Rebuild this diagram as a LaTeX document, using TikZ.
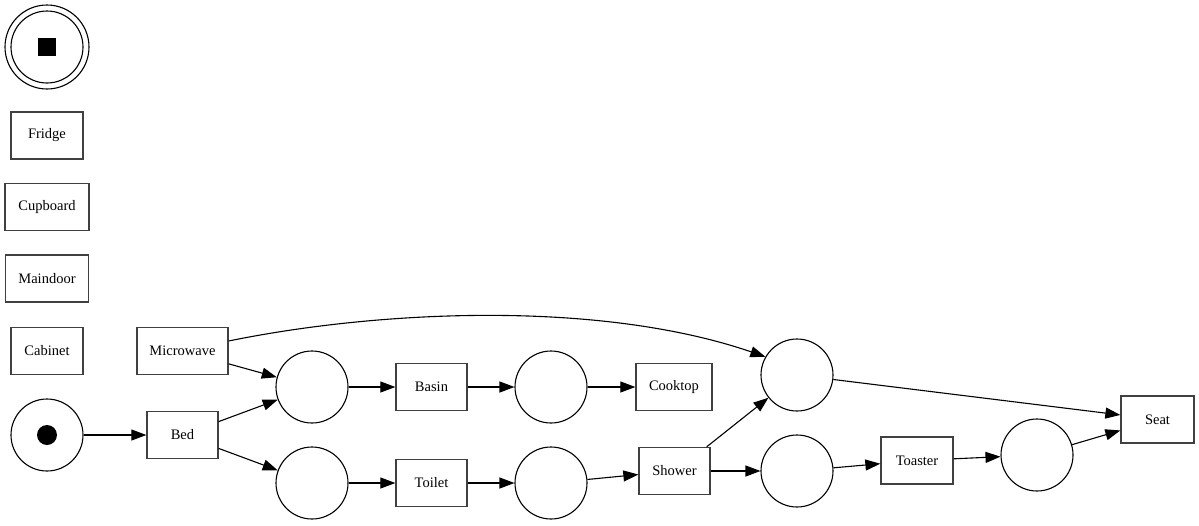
\documentclass[tikz,border=0pt]{standalone}
\usepackage{fontspec}
\setmainfont{Liberation Serif}
\usetikzlibrary{arrows.meta}
\definecolor{boxline}{HTML}{404040}
\begin{document}
\begin{tikzpicture}[x=1pt,y=-1pt,
  place/.style={draw,circle,minimum size=72pt,inner sep=0pt,line width=1.1pt},
  trans/.style={draw=boxline,rectangle,minimum height=47pt,inner sep=0pt,line width=1.3pt,font=\fontsize{14.5}{16}\selectfont},
  arc/.style={-{Triangle[length=15pt,width=11pt]},line width=1.1pt}]
\useasboundingbox (0,0) rectangle (1199,525);
% final place
\node[place,minimum size=84pt] (end) at (47,47) {};
\node[draw,circle,minimum size=72pt,inner sep=0pt,line width=1.1pt] (endin) at (47,47) {};
\node[fill=black,minimum size=18pt,inner sep=0pt] (endsq) at (47,47) {};
% isolated transitions
\node[trans,minimum width=72pt] (fridge) at (47,135.5) {Fridge};
\node[trans,minimum width=84pt] (cupboard) at (47,207) {Cupboard};
\node[trans,minimum width=83pt] (maindoor) at (47,278.5) {Maindoor};
\node[trans,minimum width=72pt] (cabinet) at (47,351) {Cabinet};
\node[trans,minimum width=91pt] (microwave) at (182.5,351) {Microwave};
% start
\node[place] (start) at (47,435) {};
\node[fill=black,circle,minimum size=20pt,inner sep=0pt] (token) at (47,435) {};
\node[trans,minimum width=71pt] (bed) at (182.5,435) {Bed};
\node[place] (p1) at (312,387) {};
\node[place] (p4) at (312,483) {};
\node[trans,minimum width=71pt] (basin) at (431.5,387) {Basin};
\node[trans,minimum width=71pt] (toilet) at (431.5,483) {Toilet};
\node[place] (p2) at (551,387) {};
\node[place] (p5) at (551,483) {};
\node[trans,minimum width=76pt] (cooktop) at (674,387) {Cooktop};
\node[trans,minimum width=71pt] (shower) at (674.5,471) {Shower};
\node[place] (p3) at (797,375) {};
\node[place] (p6) at (797,471) {};
\node[trans,minimum width=72pt] (toaster) at (917,460.5) {Toaster};
\node[place] (p7) at (1037,455) {};
\node[trans,minimum width=73pt] (seat) at (1157.5,419.5) {Seat};
% arcs
\draw[arc] (start) -- (bed);
\draw[arc] (microwave) -- (p1);
\draw[arc] (microwave.east) ++(0,-10) coordinate (mwout) .. controls (380,310) and (600,300) .. (p3.150);
\draw[arc] (bed) -- (p1);
\draw[arc] (bed) -- (p4);
\draw[arc] (p1) -- (basin);
\draw[arc] (basin) -- (p2);
\draw[arc] (p2) -- (cooktop);
\draw[arc] (p4) -- (toilet);
\draw[arc] (toilet) -- (p5);
\draw[arc] (p5) -- (shower);
\draw[arc] (shower.north east) ++(-4,0) coordinate (shout) -- (p3);
\draw[arc] (shower) -- (p6);
\draw[arc] (p6) -- (toaster);
\draw[arc] (toaster) -- (p7);
\draw[arc] (p7) -- (seat);
\draw[arc] (p3) -- (seat);
\end{tikzpicture}
\end{document}
